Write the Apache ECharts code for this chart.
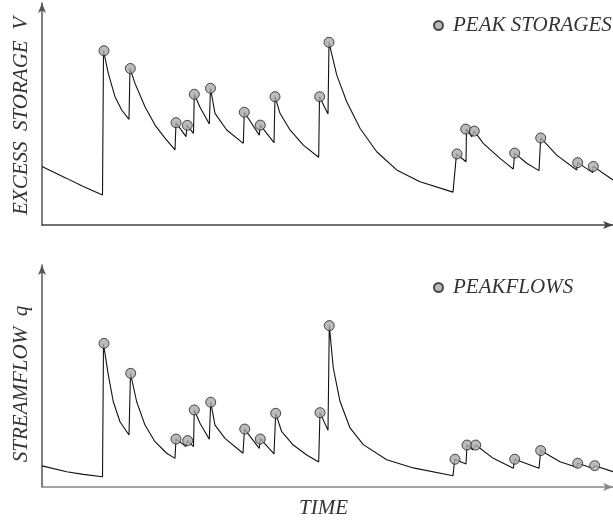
<!DOCTYPE html>
<html>
<head>
<meta charset="utf-8">
<script src="https://cdn.jsdelivr.net/npm/echarts@6/dist/echarts.min.js"></script>
<style>html,body{margin:0;padding:0;background:#fff}#c{width:613px;height:521px}</style>
</head>
<body>
<div id="c"></div>
<script>
// ---- Top panel: excess storage V (time, value) ----
const storageTime = [0,24.7,41.3,60.5,61.5,66.3,73,79.7,87,88,93,103,113,123,133,134,144,145,151.5,152.3,158,167.3,168.5,173,184.7,201.3,202.3,217.3,218.3,232,233,238,248,261.3,276.7,277.5,286,287,294.7,304.7,318,334.7,354.7,378,411,414.5,424,424.5,429.7,432.3,441.3,458,471.3,472.7,484.7,497,498.7,514.7,534.7,535.7,550.7,551.3,571];
const storageValue = [26.3,21.0,17.3,13.5,78.5,68.3,57.8,51.8,47.6,70.5,63.8,53.3,45.0,39.1,33.8,46.1,39.8,44.9,41.3,58.9,53.0,45.5,61.6,50.3,42.8,36.8,50.8,40.5,45.0,37.1,57.8,50.3,42.8,36.0,30.5,57.8,50.0,82.3,67.6,55.5,43.6,33.0,24.8,19.5,14.8,32.0,28.5,43.2,39.8,42.3,36.8,30.0,25.2,32.4,27.8,24.5,39.2,31.5,24.8,28.1,23.6,26.4,20.3];
const peakStorageTime = [62,88.3,134,145.3,152.3,168.5,202.3,218.3,233,277.7,287,415,423.7,432.3,472.7,498.7,535.7,551.3];
const peakStorageValue = [78.5,70.5,46.1,44.9,58.9,61.6,50.8,45.0,57.8,57.8,82.3,32.0,43.2,42.3,32.4,39.2,28.1,26.4];

// ---- Bottom panel: streamflow q ----
const flowTime = [0,24.7,41.3,60.5,61.5,66.3,71.3,78,87,88.5,94.7,103,113,124.7,133,134,144,145.5,151.5,152.3,158,167.3,168.7,173,183,201,202.5,217.3,218.3,232,233.7,239.7,251.3,264.7,276.7,278,286,287.3,291.3,298,308,321.3,344.7,371.3,411,412.7,424,425,430.7,433.7,451.3,471.3,472.7,497,498.7,518,534.7,535.7,550.7,552.7,571];
const flowValue = [9.5,6.9,5.7,4.6,64.4,50.5,38.4,29.4,23.4,51.2,38.4,27.9,20.4,15.2,12.9,21.6,18.2,20.9,18.2,34.7,28.7,21.5,38.2,27.9,21.9,15.2,26.1,17.4,21.8,14.9,33.2,24.9,18.9,14.4,11.3,33.6,25.5,72.7,53.6,38.6,26.6,19.1,12.3,8.6,5.1,12.5,10.4,18.9,16.7,18.9,12.9,8.4,12.5,8.4,16.4,11.4,8.9,10.7,8.4,9.6,6.9];
const peakFlowTime = [62,88.7,134,145.7,152.3,168.7,202.7,218.3,233.7,278,287.3,413,425,433.7,472.7,498.7,535.7,552.7];
const peakFlowValue = [64.7,51.2,21.6,20.9,34.7,38.2,26.1,21.6,33.2,33.5,72.7,12.5,18.9,18.9,12.5,16.4,10.7,9.6];

const topYLabel = 'EXCESS  STORAGE  V';
const bottomYLabel = 'STREAMFLOW  q';
const xLabel = 'TIME';
const topLegend = 'PEAK STORAGES';
const bottomLegend = 'PEAKFLOWS';

const zip = (a, b) => a.map((v, i) => [v, b[i]]);
const FONT = "'Liberation Serif', 'DejaVu Serif', serif";

function xAx(idx, name) {
  return {
    gridIndex: idx, type: 'value', min: 0, max: 571,
    name: name, nameLocation: 'middle', nameGap: 11,
    nameTextStyle: {fontFamily: FONT, fontStyle: 'italic', fontSize: 21, color: '#333', padding: [0, 8, 0, 0]},
    axisLine: {lineStyle: {color: idx === 0 ? '#444' : '#888', width: 1.5}, symbol: ['none', 'arrow'], symbolSize: [6, 10]},
    axisTick: {show: false}, axisLabel: {show: false}, splitLine: {show: false}
  };
}
function yAx(idx, name, pad) {
  return {
    gridIndex: idx, type: 'value', min: 0, max: 100,
    name: name, nameLocation: 'middle', nameGap: 10,
    nameTextStyle: {fontFamily: FONT, fontStyle: 'italic', fontSize: 21, color: '#333', padding: pad},
    axisLine: {lineStyle: {color: '#555', width: 1.5}, symbol: ['none', 'arrow'], symbolSize: [6, 10]},
    axisTick: {show: false}, axisLabel: {show: false}, splitLine: {show: false}
  };
}
const markerStyle = {color: '#aaaaaa', borderColor: '#222', borderWidth: 1};
const legendText = {fontFamily: FONT, fontStyle: 'italic', fontSize: 21, color: '#333', padding: [0, 0, 0, 5]};
const lineCommon = {showSymbol: false, lineStyle: {color: '#111', width: 1.1}, silent: true, z: 2};

const chart = echarts.init(document.getElementById('c'), null, {renderer: 'canvas'});
chart.setOption({
  animation: false,
  backgroundColor: '#fff',
  grid: [
    {left: 42, top: 3, right: 0, height: 222},
    {left: 42, top: 265, right: 0, height: 222}
  ],
  xAxis: [xAx(0, ''), xAx(1, xLabel)],
  yAxis: [yAx(0, topYLabel, [0, 4, 0, 0]), yAx(1, bottomYLabel, [0, 16, 0, 0])],
  legend: [
    {data: [topLegend], left: 428, top: 10, itemWidth: 9, itemHeight: 9, textStyle: legendText},
    {data: [bottomLegend], left: 428, top: 272, itemWidth: 9, itemHeight: 9, textStyle: legendText}
  ],
  series: [
    Object.assign({type: 'line', xAxisIndex: 0, yAxisIndex: 0, data: zip(storageTime, storageValue)}, lineCommon),
    {name: topLegend, type: 'scatter', xAxisIndex: 0, yAxisIndex: 0, data: zip(peakStorageTime, peakStorageValue),
     symbolSize: 10, itemStyle: markerStyle, z: 3},
    Object.assign({type: 'line', xAxisIndex: 1, yAxisIndex: 1, data: zip(flowTime, flowValue)}, lineCommon),
    {name: bottomLegend, type: 'scatter', xAxisIndex: 1, yAxisIndex: 1, data: zip(peakFlowTime, peakFlowValue),
     symbolSize: 10, itemStyle: markerStyle, z: 3}
  ]
});
</script>
</body>
</html>
